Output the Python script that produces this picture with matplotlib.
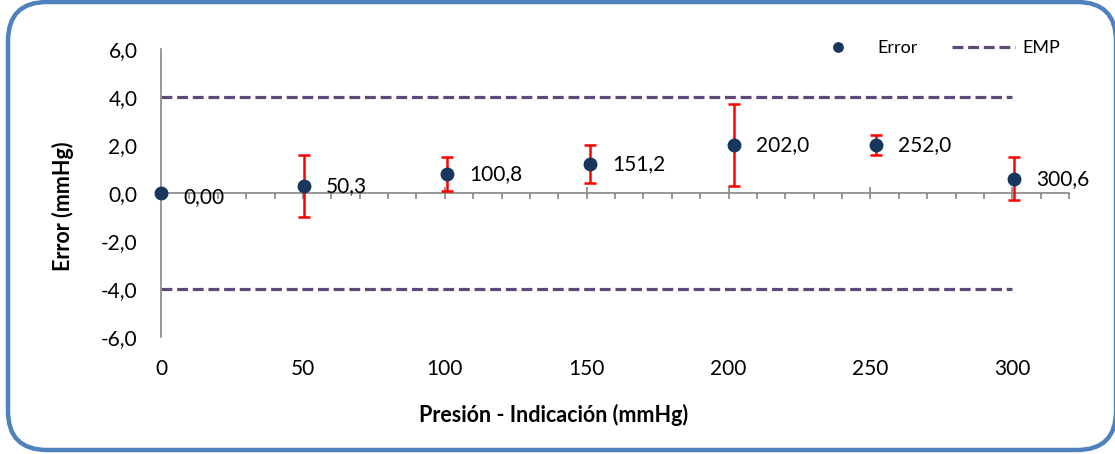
import numpy as np
import matplotlib.pyplot as plt
from matplotlib.patches import FancyBboxPatch

# -------------------------
# Data
# -------------------------
presion = [0.0, 50.3, 100.8, 151.2, 202.0, 252.0, 300.6]
error = [0.0, 0.3, 0.8, 1.2, 2.0, 2.0, 0.6]
incert = [0.0, 1.3, 0.7, 0.8, 1.7, 0.4, 0.9]
etiquetas = ["0,00", "50,3", "100,8", "151,2", "202,0", "252,0", "300,6"]

emp_x = [0, 300]
emp_sup = [4.0, 4.0]
emp_inf = [-4.0, -4.0]

xticks = [0, 50, 100, 150, 200, 250, 300]
yticks = [-6, -4, -2, 0, 2, 4, 6]

plt.rcParams['font.family'] = ['Lato', 'DejaVu Sans']
FS = 15

fig = plt.figure(figsize=(11.15, 4.54), dpi=100)

# rounded border
box = FancyBboxPatch((8 / 1115, 4 / 454), 1108 / 1115, 448 / 454,
                     boxstyle="round,pad=0,rounding_size=0.035",
                     transform=fig.transFigure, fill=False,
                     edgecolor='#4F81BD', linewidth=3.2, mutation_aspect=1115 / 454)
fig.patches.append(box)

ax = fig.add_axes([161 / 1115, 1 - 337 / 454, (1069 - 161) / 1115, (337 - 49) / 454])

# EMP lines
ax.plot(emp_x, emp_sup, color='#5F497A', lw=2.3, dashes=(3.4, 1.5), label='EMP', zorder=2)
ax.plot(emp_x, emp_inf, color='#5F497A', lw=2.3, dashes=(3.4, 1.5), zorder=2)

# error points
ax.errorbar(presion, error, yerr=incert, fmt='none', ecolor='#FF0000',
            elinewidth=1.8, capsize=4.5, capthick=1.8, zorder=3)
ax.plot(presion, error, 'o', color='#17375E', ms=9, label='Error', zorder=4, clip_on=False)

for x, y, t in zip(presion, error, etiquetas):
    dy = -0.15 if t == "0,00" else 0.0
    ax.annotate(t, (x, y + dy), xytext=(16, 0), textcoords='offset points',
                va='center', ha='left', fontsize=FS, color='black', zorder=5)

ax.set_xlim(0, 320)
ax.set_ylim(-6, 6)

for s in ['top', 'right']:
    ax.spines[s].set_visible(False)
ax.spines['bottom'].set_position(('data', 0))
ax.spines['bottom'].set_color('#868686')
ax.spines['left'].set_color('#868686')
ax.spines['bottom'].set_linewidth(1.2)
ax.spines['left'].set_linewidth(1.2)

ax.set_xticks(xticks)
ax.set_xticks(np.arange(0, 321, 10), minor=True)
ax.tick_params(axis='x', which='major', direction='inout', length=9, color='#868686', width=1.2,
               labelbottom=False)
ax.tick_params(axis='x', which='minor', direction='out', length=4.5, color='#868686', width=1.2)

ax.set_yticks(yticks)
ax.set_yticklabels([("%.1f" % v).replace('.', ',') for v in yticks])
ax.tick_params(axis='y', length=0, pad=17, labelsize=FS)

for xt in xticks:
    ax.text(xt, -0.11, str(xt), transform=ax.get_xaxis_transform(),
            ha='center', va='center', fontsize=FS)

fig.text(554 / 1115, 1 - 415 / 454, 'Presión - Indicación (mmHg)',
         ha='center', va='center', fontsize=15.5, fontweight='bold')
fig.text(63 / 1115, 1 - 206 / 454, 'Error (mmHg)', rotation=90, ha='center', va='center',
         fontsize=15.5, fontweight='bold')

h, l = ax.get_legend_handles_labels()
leg = fig.legend(h[::-1], l[::-1], loc='center right',
                 bbox_to_anchor=(1060 / 1115, 1 - 48 / 454), bbox_transform=fig.transFigure,
                 ncol=2, frameon=False, fontsize=13, borderpad=0, borderaxespad=0,
                 handlelength=3.5, handletextpad=0.4, columnspacing=1.9, markerscale=0.75)

fig.savefig('out.png', dpi=100)
